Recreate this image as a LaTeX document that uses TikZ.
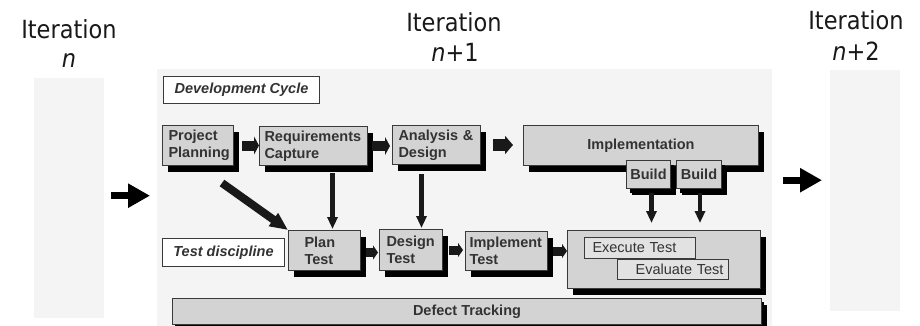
\documentclass[tikz,border=0pt]{standalone}
\usepackage{fontspec}
\setmainfont{Liberation Sans}
\newfontfamily\iterfont[FakeStretch=0.9]{DejaVu Sans}
\usetikzlibrary{arrows.meta,shadows,calc}

\definecolor{panelgray}{HTML}{F4F4F4}
\definecolor{boxfill}{HTML}{D3D3D3}
\definecolor{innerfill}{HTML}{E2E2E2}
\definecolor{boxline}{HTML}{3A3A3A}
\definecolor{boxtext}{HTML}{333333}

\tikzset{
  panel/.style={fill=panelgray, draw=none, inner sep=0pt, anchor=north west},
  iter/.style={font=\iterfont\fontsize{25}{30}\selectfont, text=black!90, inner sep=0pt},
  stage/.style={draw=boxline, line width=1pt, fill=boxfill, text=boxtext,
    font=\fontsize{14.5}{17}\selectfont\bfseries, inner xsep=6pt, inner ysep=0pt,
    anchor=north west,
    drop shadow={shadow xshift=5pt, shadow yshift=-6pt, fill=black, opacity=1}},
  smallstage/.style={stage,
    drop shadow={shadow xshift=3pt, shadow yshift=-4pt, fill=black, opacity=1}},
  flatstage/.style={stage,
    drop shadow={shadow xshift=2pt, shadow yshift=-3pt, fill=black, opacity=1}},
  tag/.style={draw=boxline, line width=1pt, fill=white, text=boxtext,
    font=\fontsize{14.5}{17}\selectfont\bfseries\itshape, inner sep=0pt, anchor=north west},
  activity/.style={draw=boxline, line width=1pt, fill=innerfill, text=boxtext,
    font=\fontsize{14.5}{17}\selectfont, inner ysep=0pt, anchor=north west},
  blockarrow/.style={draw=black!90, line width=10pt, -{Triangle[width=18pt,length=5pt]}},
  widearrow/.style={draw=black!90, line width=12pt, -{Triangle[width=18pt,length=8pt]}},
  testarrow/.style={draw=black!90, line width=9pt, -{Triangle[width=14pt,length=5pt]}},
  downarrow/.style={draw=black!90, line width=4.5pt, -{Triangle[width=10pt,length=12pt]}},
  diagarrow/.style={draw=black!90, line width=8pt, -{Triangle[width=15pt,length=18pt]}},
  bigarrow/.style={draw=black, line width=7pt, -{Triangle[width=23pt,length=22pt]}},
}

\begin{document}
\begin{tikzpicture}[x=1pt,y=-1pt]
\useasboundingbox (0,0) rectangle (920,326);

% iteration panels
\node[panel, minimum width=70pt, minimum height=240pt] (lp) at (34,78) {};
\node[panel, minimum width=615pt, minimum height=257pt] (mp) at (157,69) {};
\node[panel, minimum width=70pt, minimum height=241pt] (rp) at (830,70) {};

% iteration titles
\node[iter, anchor=base] (itL) at (69,39) {Iteration};
\node[iter, anchor=base] (nL) at (69,68) {\itshape n};
\node[iter, anchor=base] (itM) at (454,32) {Iteration};
\node[iter, anchor=base] (nM) at (455,62) {{\itshape n}+1};
\node[iter, anchor=base] (itR) at (856,30) {Iteration};
\node[iter, anchor=base] (nR) at (856,61) {{\itshape n}+2};

% flow between iterations
\draw[bigarrow] ([xshift=7pt,yshift=2.5pt]lp.east) -- ([xshift=-7pt,yshift=2.5pt]lp.east -| mp.west);
\draw[bigarrow] ([xshift=11pt,yshift=17.5pt]mp.east) -- ([xshift=-8pt,yshift=17.5pt]mp.east -| rp.west);

% development cycle
\node[tag, minimum width=156pt, minimum height=27pt] (dc) at (163,76) {Development Cycle};
\node[stage, text width=59pt, minimum height=40pt, align=left] (pp) at (162,125) {Project\\Planning};
\node[stage, inner xsep=5pt, text width=98pt, minimum height=39pt, align=left] (rc) at (259,126) {Requirements\\Capture};
\node[stage, text width=76pt, minimum height=39pt, align=left] (ad) at (392,125) {Analysis \&\\Design};
\node[stage, minimum width=235pt, minimum height=40pt] (impl) at (523,125) {Implementation};
\node[smallstage, inner xsep=0pt, minimum width=44pt, minimum height=28pt] (b1) at (626,160) {Build};
\node[smallstage, inner xsep=0pt, minimum width=45pt, minimum height=28pt] (b2) at (676,160) {Build};

% test discipline
\node[tag, minimum width=122pt, minimum height=28pt] (td) at (162,238) {Test discipline};
\node[stage, inner xsep=16pt, text width=40pt, minimum height=40pt, align=left] (pt) at (288,230) {Plan\\Test};
\node[stage, inner xsep=7pt, text width=49pt, minimum height=41pt, align=left] (dt) at (379,229) {Design\\Test};
\node[stage, inner xsep=4pt, text width=74pt, minimum height=39pt, align=left] (it) at (465,231) {Implement\\Test};
\node[stage, minimum width=193pt, minimum height=58pt] (exec) at (567,230) {};
\node[activity, inner xsep=8pt, text width=95pt, minimum height=21pt, align=left] (ex) at (584,237) {Execute Test};
\node[activity, inner xsep=5pt, text width=101pt, minimum height=20pt, align=right] (ev) at (617,259) {Evaluate Test};
\node[flatstage, minimum width=589pt, minimum height=26pt] (dft) at (172,298) {Defect Tracking};

% development cycle flow
\draw[blockarrow] ([xshift=8pt]pp.east) -- (pp.east -| rc.west);
\draw[blockarrow] ([xshift=4pt]rc.east) -- ([xshift=-2pt]rc.east -| ad.west);
\draw[widearrow] ([xshift=12pt]ad.east) -- ([xshift=-10pt]ad.east -| impl.west);

% from development to test
\coordinate (rcdown) at ([xshift=19pt,yshift=-7pt]rc.south);
\draw[downarrow, shorten >=1pt] (rcdown) -- (rcdown |- pt.north);
\coordinate (addown) at ([xshift=-15pt,yshift=-9pt]ad.south);
\draw[downarrow, shorten >=1pt] (addown) -- (addown |- dt.north);
\coordinate (ppdown) at ([xshift=24pt,yshift=-17pt]pp.south);
\draw[diagarrow] (ppdown) -- (pt.north west);
\coordinate (b1down) at ([xshift=3pt,yshift=-4pt]b1.south);
\draw[downarrow, shorten >=7pt] (b1down) -- (b1down |- exec.north);
\coordinate (b2down) at ([xshift=1pt,yshift=-4pt]b2.south);
\draw[downarrow, shorten >=7pt] (b2down) -- (b2down |- exec.north);

% test flow
\draw[testarrow] ([xshift=5pt,yshift=-2pt]pt.east) -- ([xshift=-1pt,yshift=-2pt]pt.east -| dt.west);
\draw[testarrow] ([xshift=6pt]dt.east) -- ([xshift=-2pt]dt.east -| it.west);
\draw[testarrow] ([xshift=5pt]it.east) -- (it.east -| exec.west);
\end{tikzpicture}
\end{document}
